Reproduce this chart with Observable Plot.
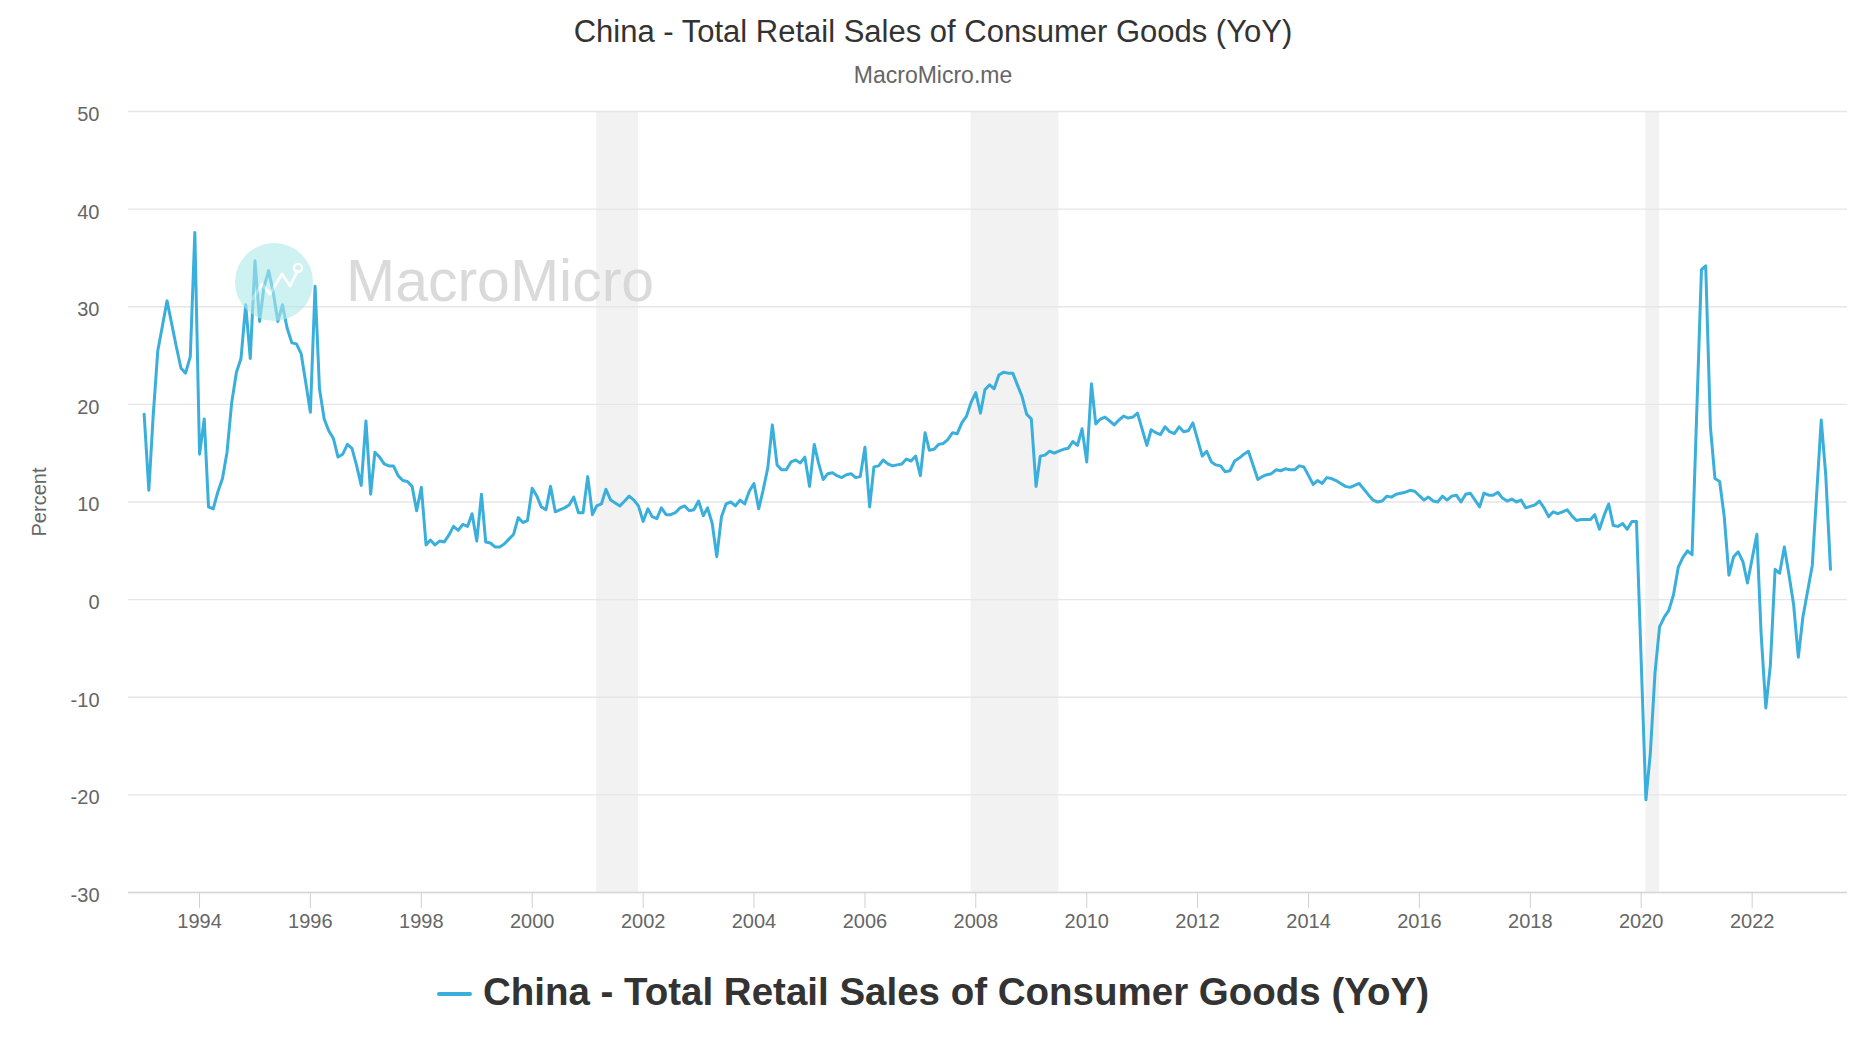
<!DOCTYPE html>
<html>
<head>
<meta charset="utf-8">
<script src="https://cdn.jsdelivr.net/npm/d3@7"></script>
<script src="https://cdn.jsdelivr.net/npm/@observablehq/plot@0.6"></script>
<style>
  html, body { margin: 0; padding: 0; background: #fff; }
  body { width: 1866px; height: 1050px; position: relative; overflow: hidden; font-family: "Liberation Sans", Arial, sans-serif; }
  #title { position: absolute; left: 0; width: 1866px; top: 16px; text-align: center; font-size: 31px; line-height: 31px; color: #333; }
  #subtitle { position: absolute; left: 0; width: 1866px; top: 64px; text-align: center; font-size: 23px; line-height: 23px; color: #666; }
  #chart { position: absolute; left: 0; top: 100px; }
  #ylabel { position: absolute; left: 39px; top: 502px; transform: translate(-50%, -50%) rotate(-90deg); font-size: 20px; color: #666; white-space: nowrap; }
  #legend { position: absolute; left: 0; width: 1866px; top: 973px; display: flex; justify-content: center; align-items: center; }
  #legend .sw { width: 35px; height: 4px; border-radius: 2px; margin-right: 11px; margin-top: 4px; }
  #legend .tx { font-size: 38.5px; font-weight: bold; color: #333; line-height: 38.5px; }
  #wm { position: absolute; left: 0; top: 0; pointer-events: none; }
  #chart svg g[aria-label="x-axis tick"] path { stroke: #d0d0d0; }
</style>
</head>
<body>
<div id="title"></div>
<div id="subtitle"></div>
<div id="chart"></div>
<div id="ylabel"></div>
<div id="legend"></div>
<script>
// ---- Text ----
const titleText = "China - Total Retail Sales of Consumer Goods (YoY)";
const subtitleText = "MacroMicro.me";
const yAxisLabel = "Percent";
const seriesName = "China - Total Retail Sales of Consumer Goods (YoY)";
const lineColor = "#3aafdc";

// ---- Monthly YoY values (%), Jan..Dec, null = not published separately ----
const years = [1993,1994,1995,1996,1997,1998,1999,2000,2001,2002,2003,2004,2005,2006,2007,2008,2009,2010,2011,2012,2013,2014,2015,2016,2017,2018,2019,2020,2021,2022,2023];
const r1993 = [19.0, 11.2, 18.7, 25.5, 28.0, 30.6, 28.3, 25.9, 23.7, 23.2, 24.9, 37.6];
const r1994 = [14.9, 18.5, 9.5, 9.3, 11.0, 12.4, 15.1, 20.2, 23.3, 24.7, 30.2, 24.7];
const r1995 = [34.7, 28.5, 32.0, 33.7, 31.5, 28.5, 30.2, 27.8, 26.3, 26.2, 25.2, 22.3];
const r1996 = [19.2, 32.1, 21.6, 18.5, 17.3, 16.5, 14.6, 14.9, 15.9, 15.5, 13.7, 11.7];
const r1997 = [18.3, 10.8, 15.1, 14.6, 13.9, 13.7, 13.7, 12.7, 12.2, 12.1, 11.6, 9.1];
const r1998 = [11.5, 5.6, 6.1, 5.6, 6.0, 5.9, 6.6, 7.5, 7.1, 7.7, 7.5, 8.8];
const r1999 = [6.0, 10.8, 5.9, 5.8, 5.4, 5.4, 5.7, 6.2, 6.7, 8.4, 7.9, 8.1];
const r2000 = [11.4, 10.6, 9.5, 9.2, 11.6, 9.0, 9.2, 9.4, 9.7, 10.5, 8.9, 8.9];
const r2001 = [12.6, 8.7, 9.6, 9.8, 11.3, 10.2, 9.9, 9.6, 10.1, 10.6, 10.2, 9.6];
const r2002 = [8.0, 9.3, 8.5, 8.3, 9.4, 8.7, 8.7, 8.9, 9.4, 9.6, 9.1, 9.2];
const r2003 = [10.1, 8.6, 9.4, 7.8, 4.4, 8.5, 9.8, 10.0, 9.6, 10.2, 9.8, 11.1];
const r2004 = [11.9, 9.3, 11.2, 13.5, 17.9, 13.8, 13.3, 13.3, 14.1, 14.3, 14.0, 14.6];
const r2005 = [11.6, 15.9, 14.0, 12.3, 12.9, 13.0, 12.7, 12.5, 12.8, 12.9, 12.5, 12.6];
const r2006 = [15.6, 9.5, 13.6, 13.7, 14.3, 13.9, 13.7, 13.8, 13.9, 14.4, 14.2, 14.7];
const r2007 = [12.7, 17.1, 15.3, 15.4, 15.9, 16.0, 16.4, 17.1, 17.0, 18.1, 18.8, 20.2];
const r2008 = [21.2, 19.1, 21.5, 22.0, 21.6, 23.0, 23.3, 23.2, 23.2, 22.0, 20.8, 19.0];
const r2009 = [18.5, 11.6, 14.7, 14.8, 15.2, 15.0, 15.2, 15.4, 15.5, 16.2, 15.8, 17.5];
const r2010 = [14.1, 22.1, 18.0, 18.5, 18.7, 18.3, 17.9, 18.4, 18.8, 18.6, 18.7, 19.1];
const r2011 = [null, 15.8, 17.4, 17.1, 16.9, 17.7, 17.2, 17.0, 17.7, 17.2, 17.3, 18.1];
const r2012 = [null, 14.7, 15.2, 14.1, 13.8, 13.7, 13.1, 13.2, 14.2, 14.5, 14.9, 15.2];
const r2013 = [null, 12.3, 12.6, 12.8, 12.9, 13.3, 13.2, 13.4, 13.3, 13.3, 13.7, 13.6];
const r2014 = [null, 11.8, 12.2, 11.9, 12.5, 12.4, 12.2, 11.9, 11.6, 11.5, 11.7, 11.9];
const r2015 = [null, 10.7, 10.2, 10.0, 10.1, 10.6, 10.5, 10.8, 10.9, 11.0, 11.2, 11.1];
const r2016 = [null, 10.2, 10.5, 10.1, 10.0, 10.6, 10.2, 10.6, 10.7, 10.0, 10.8, 10.9];
const r2017 = [null, 9.5, 10.9, 10.7, 10.7, 11.0, 10.4, 10.1, 10.3, 10.0, 10.2, 9.4];
const r2018 = [null, 9.7, 10.1, 9.4, 8.5, 9.0, 8.8, 9.0, 9.2, 8.6, 8.1, 8.2];
const r2019 = [null, 8.2, 8.7, 7.2, 8.6, 9.8, 7.6, 7.5, 7.8, 7.2, 8.0, 8.0];
const r2020 = [null, -20.5, -15.8, -7.5, -2.8, -1.8, -1.1, 0.5, 3.3, 4.3, 5.0, 4.6];
const r2021 = [null, 33.8, 34.2, 17.7, 12.4, 12.1, 8.5, 2.5, 4.4, 4.9, 3.9, 1.7];
const r2022 = [null, 6.7, -3.5, -11.1, -6.7, 3.1, 2.7, 5.4, 2.5, -0.5, -5.9, -1.8];
const r2023 = [null, 3.5, 10.6, 18.4, 12.7, 3.1];
const yearly = [r1993,r1994,r1995,r1996,r1997,r1998,r1999,r2000,r2001,r2002,r2003,r2004,r2005,r2006,r2007,r2008,r2009,r2010,r2011,r2012,r2013,r2014,r2015,r2016,r2017,r2018,r2019,r2020,r2021,r2022,r2023];

// ---- Shaded recession periods ----
const recessionStart = ["2001-03-01", "2007-12-01", "2020-02-01"];
const recessionEnd   = ["2001-12-01", "2009-07-01", "2020-05-01"];

// ---- Axes ----
const yTickValues = [-30, -20, -10, 0, 10, 20, 30, 40, 50];
const xTickYears = [1994, 1996, 1998, 2000, 2002, 2004, 2006, 2008, 2010, 2012, 2014, 2016, 2018, 2020, 2022];

// ---- Build tables ----
const data = yearly.flatMap((arr, i) =>
  arr.map((v, m) => ({date: new Date(Date.UTC(years[i], m, 1)), value: v}))
).filter(d => d.value != null);
const recessions = recessionStart.map((s, i) => ({start: new Date(s + "T00:00:00Z"), end: new Date(recessionEnd[i] + "T00:00:00Z")}));
const xTickDates = xTickYears.map(y => new Date(Date.UTC(y, 0, 1)));

document.getElementById("title").textContent = titleText;
document.getElementById("subtitle").textContent = subtitleText;
document.getElementById("ylabel").textContent = yAxisLabel;
const lg = document.getElementById("legend");
lg.innerHTML = `<div class="sw" style="background:${lineColor}"></div><div class="tx"></div>`;
lg.querySelector(".tx").textContent = seriesName;

const chart = Plot.plot({
  width: 1866,
  height: 850,
  marginTop: 11,
  marginBottom: 58,
  marginLeft: 128,
  marginRight: 19,
  style: {fontFamily: "'Liberation Sans', Arial, sans-serif", fontSize: "20px", color: "#666", background: "transparent", overflow: "visible"},
  x: {type: "utc", domain: [new Date(Date.UTC(1992, 8, 20)), new Date(Date.UTC(2023, 8, 21))]},
  y: {domain: [-30, 50]},
  marks: [
    Plot.rect(recessions, {x1: "start", x2: "end", fill: "#f2f2f2"}),
    Plot.gridY(yTickValues, {stroke: "#e6e6e6", strokeOpacity: 1, strokeWidth: 1.3}),
    Plot.ruleY([-30], {stroke: "#d8d8d8", strokeWidth: 1.5}),
    Plot.axisY(yTickValues, {tickSize: 0, tickPadding: 29, label: null, fill: "#666", dy: 3, tickFormat: d => String(d)}),
    Plot.axisX(xTickDates, {tickFormat: d3.utcFormat("%Y"), tickSize: 16, tickPadding: 5, label: null, fill: "#666", stroke: "#d0d0d0"}),
    Plot.line(data, {x: "date", y: "value", stroke: lineColor, strokeWidth: 3, strokeLinejoin: "round", strokeLinecap: "round"})
  ]
});
document.getElementById("chart").appendChild(chart);
</script>
<svg id="wm" width="1866" height="1050">
  <g opacity="0.6">
    <circle cx="274" cy="282" r="39" fill="#aee8e8"/>
    <polyline points="252,300 262,284 270,294 282,274 290,286 298,270" fill="none" stroke="#fff" stroke-width="3" stroke-linejoin="round" opacity="0.9"/>
    <circle cx="298" cy="268" r="4" fill="none" stroke="#fff" stroke-width="2.5"/>
  </g>
  <text x="346" y="301" font-family="'Liberation Sans', Arial, sans-serif" font-size="59" fill="#d4d4d4" opacity="0.85">MacroMicro</text>
</svg>
</body>
</html>
